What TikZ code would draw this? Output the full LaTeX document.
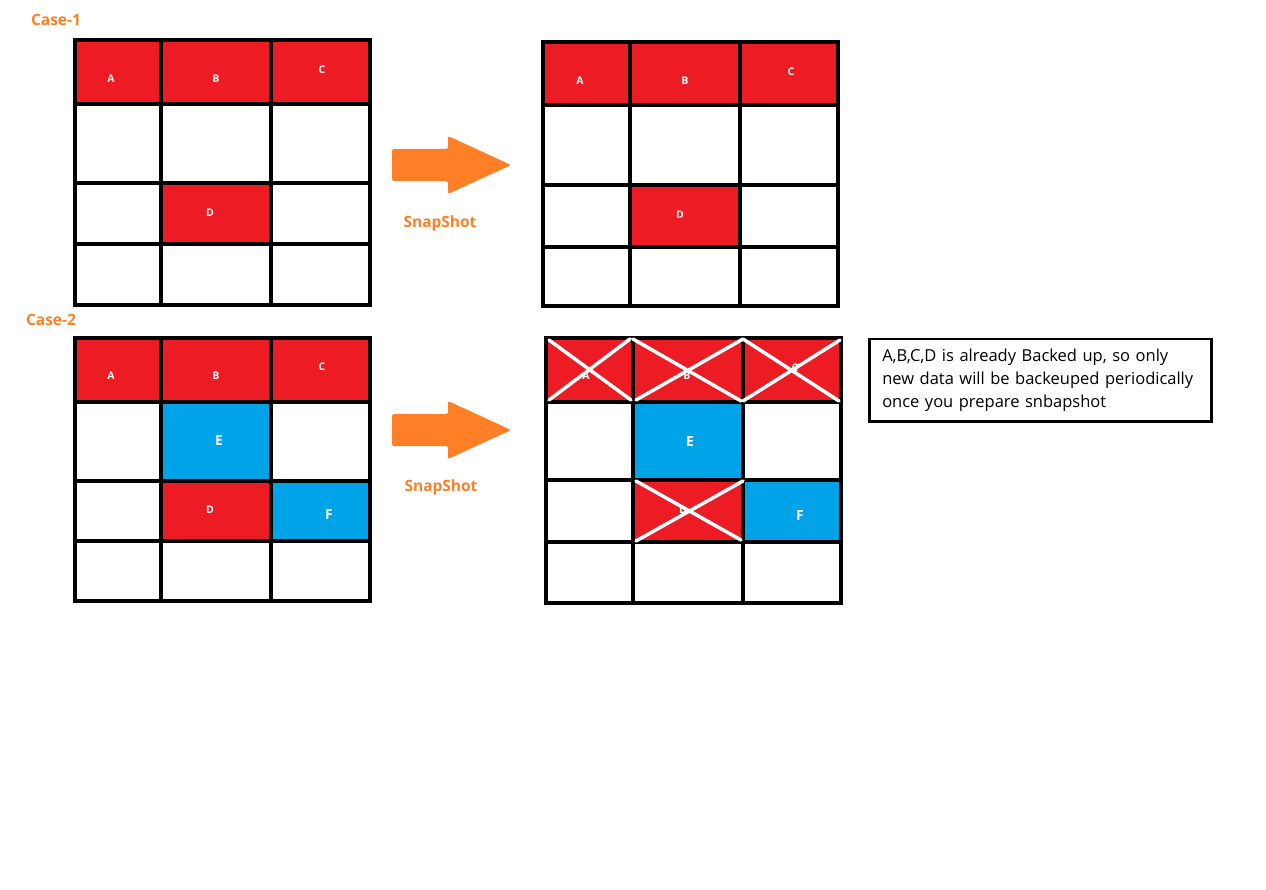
\documentclass[tikz,border=0pt]{standalone}
\usepackage{fontspec}
\setmainfont{Open Sans}
\usetikzlibrary{positioning}
\definecolor{paintred}{RGB}{237,28,36}
\definecolor{paintblue}{RGB}{0,162,232}
\definecolor{paintorange}{RGB}{255,127,39}

\begin{document}
\begin{tikzpicture}[x=1pt,y=-1pt,
	gridline/.style={line width=3.5pt},
	cross/.style={white,line width=3.5pt,line cap=round},
	small/.style={text=white,font=\fontsize{10.5}{10.5}\selectfont\bfseries},
	big/.style={text=white,font=\fontsize{14}{14}\selectfont\bfseries},
	title/.style={text=paintorange,font=\fontsize{15.5}{15.5}\selectfont\bfseries},
	bigarrow/.style={fill=paintorange,rounded corners=2pt},
	note/.style={draw,line width=2.5pt,anchor=north west,align=left,text width=316pt,
		inner xsep=13pt,minimum height=82pt,font=\fontsize{16.5}{23}\selectfont}]
	\useasboundingbox[fill=white] (0,0) rectangle (1266,890);

	% Case-1
	\node[title] (case1) at (56,20) {Case-1};
	\fill[paintred] (75,40) rectangle (370,104) (161,183) rectangle (271,244);
	\draw[gridline] (75,40) rectangle (370,305) (161,40) -- (161,305) (271,40) -- (271,305)
		(75,104) -- (370,104) (75,183) -- (370,183) (75,244) -- (370,244);
	\node[small] (a1) at (111,79) {A};
	\node[small] (b1) at (216,79) {B};
	\node[small] (c1) at (322,70) {C};
	\node[small] (d1) at (210,213) {D};

	\path[bigarrow] (392,149) -- (448,149) -- (448,136) -- (511,165) -- (448,194) -- (448,181) -- (392,181) -- cycle;
	\node[title] (snap1) at (440,223) {SnapShot};

	\fill[paintred] (543,42) rectangle (838,105) (630,185) rectangle (740,247);
	\draw[gridline] (543,42) rectangle (838,306) (630,42) -- (630,306) (740,42) -- (740,306)
		(543,105) -- (838,105) (543,185) -- (838,185) (543,247) -- (838,247);
	\node[small] (a2) at (580,81) {A};
	\node[small] (b2) at (685,81) {B};
	\node[small] (c2) at (791,72) {C};
	\node[small] (d2) at (680,215) {D};

	% Case-2
	\node[title] (case2) at (51,320) {Case-2};
	\fill[paintred] (75,338) rectangle (370,402) (161,481) rectangle (271,541);
	\fill[paintblue] (161,402) rectangle (271,481) (271,481) rectangle (370,541);
	\draw[gridline] (75,338) rectangle (370,601) (161,338) -- (161,601) (271,338) -- (271,601)
		(75,402) -- (370,402) (75,481) -- (370,481) (75,541) -- (370,541);
	\node[small] (a3) at (111,376) {A};
	\node[small] (b3) at (216,376) {B};
	\node[small] (c3) at (322,367) {C};
	\node[big] (e3) at (219,441) {E};
	\node[small] (d3) at (210,510) {D};
	\node[big] (f3) at (329,515) {F};

	\path[bigarrow,yshift=-265pt] (392,149) -- (448,149) -- (448,136) -- (511,165) -- (448,194) -- (448,181) -- (392,181) -- cycle;
	\node[title] (snap2) at (441,487) {SnapShot};

	\fill[paintred] (546,338) rectangle (841,402) (633,480) rectangle (743,542);
	\fill[paintblue] (633,402) rectangle (743,480) (743,480) rectangle (841,542);
	\draw[gridline] (546,338) rectangle (841,603) (633,338) -- (633,603) (743,338) -- (743,603)
		(546,402) -- (841,402) (546,480) -- (841,480) (546,542) -- (841,542);
	\node[small] (a4) at (586,376) {A};
	\node[small] (b4) at (687,376) {B};
	\node[small] (c4) at (795,368) {C};
	\node[big] (e4) at (690,442) {E};
	\node[small] (d4) at (683,510) {D};
	\node[big] (f4) at (800,516) {F};
	% already backed up
	\draw[cross] (549,340) -- (631,400) (549,400) -- (630,339)
		(633,339) -- (741,401) (636,400) -- (743,339)
		(743,339) -- (839,401) (743,401) -- (840,340)
		(636,481) -- (741,540) (636,541) -- (743,481);

	\node[note] (note) at (868,338) {A,B,C,D is already Backed up, so only\\new data will be backeuped periodically\\once you prepare snbapshot};
\end{tikzpicture}
\end{document}
